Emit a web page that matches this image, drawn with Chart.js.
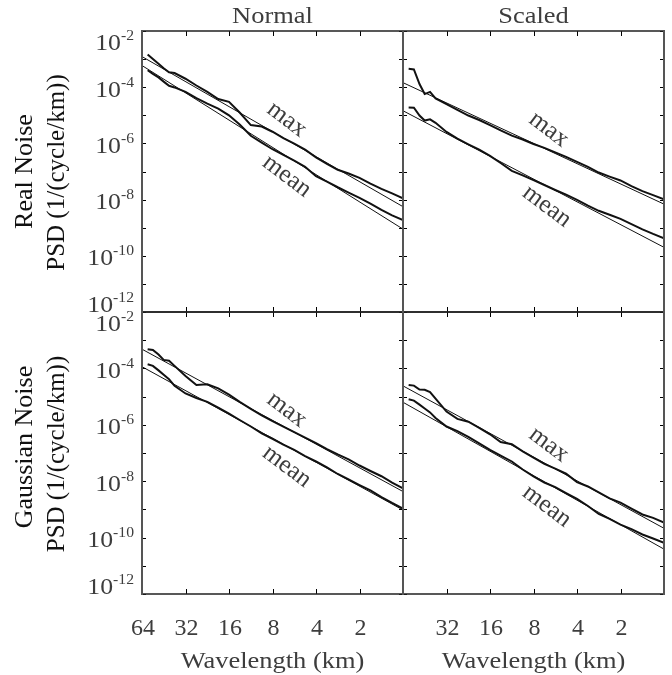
<!DOCTYPE html>
<html>
<head>
<meta charset="utf-8">
<script src="https://cdn.jsdelivr.net/npm/chart.js@4.4.0/dist/chart.umd.min.js"></script>
<style>
  html, body { margin: 0; padding: 0; background: #fff; }
  #wrap { position: relative; width: 672px; height: 675px; }
  #wrap canvas { position: absolute; left: 0; top: 0; }
</style>
</head>
<body>
<div id="wrap">
  <canvas id="tl" width="672" height="675"></canvas>
  <canvas id="tr" width="672" height="675"></canvas>
  <canvas id="bl" width="672" height="675"></canvas>
  <canvas id="br" width="672" height="675"></canvas>
</div>
<script>
// wavelength grid of the measured spectra (km)
const wavelengths = [58.5, 53.8, 49.2, 45.3, 41.6, 38.1, 32, 26.9, 22.6, 19.0, 16, 13.5, 11.3, 9.5, 8, 6.73, 5.66, 4.76, 4, 3.36, 2.83, 2.38, 2, 1.68, 1.41, 1.19, 1.0];
const fitWavelengths = [64, 1];

// Real noise, normal
const realNormalMax = [1.45e-3, 1.0e-3, 6.8e-4, 4.7e-4, 3.4e-4, 3.2e-4, 2.0e-4, 1.15e-4, 6.8e-5, 3.8e-5, 3.0e-5, 1.26e-5, 4.5e-6, 4.0e-6, 2.6e-6, 1.55e-6, 9.8e-7, 6.0e-7, 3.2e-7, 1.86e-7, 1.15e-7, 8.5e-8, 5.9e-8, 3.7e-8, 2.4e-8, 1.66e-8, 1.1e-8];
const realNormalMean = [4.0e-4, 3.0e-4, 2.24e-4, 1.58e-4, 1.12e-4, 9.8e-5, 6.8e-5, 4.1e-5, 2.6e-5, 1.74e-5, 1.0e-5, 4.7e-6, 1.86e-6, 1.07e-6, 6.2e-7, 3.9e-7, 2.45e-7, 1.48e-7, 6.8e-8, 4.4e-8, 2.75e-8, 1.78e-8, 1.15e-8, 7.2e-9, 4.3e-9, 2.75e-9, 1.86e-9];
const realNormalFitMax = [1.23e-3, 5.6e-9];
const realNormalFitMean = [5.9e-4, 8.9e-10];

// Real noise, scaled
const realScaledMax = [4.5e-4, 4.3e-4, 1.3e-4, 5.7e-5, 6.8e-5, 4.0e-5, 2.5e-5, 1.55e-5, 9.8e-6, 6.8e-6, 4.5e-6, 2.9e-6, 1.9e-6, 1.38e-6, 9.5e-7, 6.9e-7, 4.8e-7, 3.3e-7, 2.2e-7, 1.45e-7, 9.2e-8, 6.6e-8, 4.8e-8, 3.0e-8, 2.0e-8, 1.45e-8, 1.02e-8];
const realScaledMean = [1.9e-5, 1.86e-5, 9.8e-6, 6.5e-6, 7.2e-6, 5.4e-6, 2.55e-6, 1.48e-6, 9.3e-7, 6.0e-7, 3.6e-7, 2.0e-7, 1.05e-7, 7.3e-8, 4.9e-8, 3.3e-8, 2.2e-8, 1.5e-8, 9.7e-9, 6.1e-9, 4.0e-9, 2.9e-9, 2.05e-9, 1.35e-9, 8.7e-10, 6.0e-10, 4.2e-10];
const realScaledFitMax = [1.45e-4, 6.9e-9];
const realScaledFitMean = [1.45e-5, 2.0e-10];

// Gaussian noise, normal
const gaussNormalMax = [4.8e-4, 4.5e-4, 3.1e-4, 2.0e-4, 1.86e-4, 1.23e-4, 5.4e-5, 2.6e-5, 2.75e-5, 1.95e-5, 1.18e-5, 6.5e-6, 3.7e-6, 2.14e-6, 1.35e-6, 8.6e-7, 5.5e-7, 3.5e-7, 2.25e-7, 1.38e-7, 8.9e-8, 5.9e-8, 3.6e-8, 2.3e-8, 1.5e-8, 8.9e-9, 5.6e-9];
const gaussNormalMean = [1.4e-4, 1.23e-4, 8.5e-5, 5.9e-5, 4.1e-5, 2.4e-5, 1.29e-5, 8.9e-6, 6.5e-6, 4.1e-6, 2.5e-6, 1.48e-6, 8.7e-7, 5.0e-7, 3.2e-7, 2.0e-7, 1.28e-7, 7.8e-8, 5.0e-8, 3.1e-8, 1.8e-8, 1.15e-8, 7.3e-9, 4.7e-9, 2.75e-9, 1.7e-9, 1.07e-9];
const gaussNormalFitMax = [4.8e-4, 4.3e-9];
const gaussNormalFitMean = [1.15e-4, 9.5e-10];

// Gaussian noise, scaled
const gaussScaledMax = [2.6e-5, 2.45e-5, 1.78e-5, 1.74e-5, 1.45e-5, 8.5e-6, 2.95e-6, 1.62e-6, 1.29e-6, 7.8e-7, 4.6e-7, 2.45e-7, 2.04e-7, 1.15e-7, 6.8e-8, 4.1e-8, 2.8e-8, 1.86e-8, 9.3e-9, 6.5e-9, 4.0e-9, 2.45e-9, 1.74e-9, 1.07e-9, 6.6e-10, 5.0e-10, 3.4e-10];
const gaussScaledMean = [8.1e-6, 7.2e-6, 5.2e-6, 3.8e-6, 2.75e-6, 1.74e-6, 8.7e-7, 6.0e-7, 3.7e-7, 2.2e-7, 1.28e-7, 8.1e-8, 5.0e-8, 2.6e-8, 1.48e-8, 9.0e-9, 6.2e-9, 3.8e-9, 2.35e-9, 1.32e-9, 6.9e-10, 4.6e-10, 2.9e-10, 2.0e-10, 1.29e-10, 9.3e-11, 6.5e-11];
const gaussScaledFitMax = [2.4e-5, 2.14e-10];
const gaussScaledFitMean = [6.3e-6, 3.9e-11];

// axis ticks
const yTickValues = [1e-2, 1e-3, 1e-4, 1e-5, 1e-6, 1e-7, 1e-8, 1e-9, 1e-10, 1e-11, 1e-12];
const yLabelValues = [1e-2, 1e-4, 1e-6, 1e-8, 1e-10, 1e-12];
const yLabelExponents = ['-2', '-4', '-6', '-8', '-10', '-12'];
const xTickValues = [32, 16, 8, 4, 2];
const xLabelValues = [64, 32, 16, 8, 4, 2];

const SERIF = '"Liberation Serif", "Times New Roman", serif';
const GREY_TEXT = '#3d3d3d';

function stretched(ctx, text, x, y, sx, align) {
    ctx.save();
    ctx.translate(x, y);
    ctx.scale(sx, 1);
    ctx.textAlign = align;
    ctx.textBaseline = 'alphabetic';
    ctx.fillText(text, 0, 0);
    ctx.restore();
}

const panelDecor = {
    id: 'panelDecor',
    afterDatasetsDraw(chart, args, opts) {
        const { ctx, chartArea: a } = chart;
        const x = chart.scales.x, y = chart.scales.y;
        ctx.save();

        // inward tick marks
        ctx.strokeStyle = '#000';
        ctx.lineWidth = 1;
        ctx.beginPath();
        yTickValues.forEach(v => {
            const py = Math.round(y.getPixelForValue(v)) + 0.5;
            ctx.moveTo(a.left, py); ctx.lineTo(a.left + 4, py);
            ctx.moveTo(a.right, py); ctx.lineTo(a.right - 4, py);
        });
        xTickValues.forEach(v => {
            const px = Math.round(x.getPixelForValue(v)) + 0.5;
            ctx.moveTo(px, a.top); ctx.lineTo(px, a.top + 5);
            ctx.moveTo(px, a.bottom); ctx.lineTo(px, a.bottom - 5);
        });
        ctx.stroke();

        // frame
        ctx.strokeStyle = '#222';
        ctx.lineWidth = 1.5;
        ctx.beginPath();
        ctx.moveTo(a.left, a.top); ctx.lineTo(a.right, a.top);
        ctx.moveTo(a.left, a.bottom); ctx.lineTo(a.right, a.bottom);
        ctx.stroke();
        ctx.strokeStyle = '#555';
        ctx.lineWidth = 2;
        ctx.beginPath();
        ctx.moveTo(a.left, a.top - 1); ctx.lineTo(a.left, a.bottom + 1);
        ctx.moveTo(a.right, a.top - 1); ctx.lineTo(a.right, a.bottom + 1);
        ctx.stroke();

        ctx.fillStyle = GREY_TEXT;

        // column title
        if (opts.title) {
            ctx.font = '23px ' + SERIF;
            stretched(ctx, opts.title, (a.left + a.right) / 2, a.top - 8, 1.15, 'center');
        }

        // y tick labels 10^n
        if (opts.yLabels) {
            const rightX = a.left - 8;
            yLabelValues.forEach((v, i) => {
                let py = y.getPixelForValue(v);
                if (i === 0) py += 9.5;
                if (i === yLabelValues.length - 1) py -= 9.5;
                ctx.font = '14px ' + SERIF;
                const ew = ctx.measureText(yLabelExponents[i]).width * 1.12;
                stretched(ctx, yLabelExponents[i], rightX, py - 0.5, 1.12, 'right');
                ctx.font = '23px ' + SERIF;
                stretched(ctx, '10', rightX - ew, py + 9.5, 1.12, 'right');
            });
        }

        // row titles
        if (opts.rowTitle) {
            ctx.fillStyle = '#111';
            ctx.textAlign = 'center';
            ctx.textBaseline = 'alphabetic';
            const cy = (a.top + a.bottom) / 2;
            ctx.save();
            ctx.translate(31.5, cy + (opts.rowShift || 0));
            ctx.rotate(-Math.PI / 2);
            ctx.font = '26px ' + SERIF;
            ctx.fillText(opts.rowTitle, 0, 0);
            ctx.restore();
            ctx.save();
            ctx.translate(63.5, cy + 1);
            ctx.rotate(-Math.PI / 2);
            ctx.font = '25px ' + SERIF;
            ctx.fillText('PSD (1/(cycle/km))', 0, 0);
            ctx.restore();
            ctx.fillStyle = GREY_TEXT;
        }

        // x tick labels and axis title
        if (opts.xLabels) {
            ctx.font = '24px ' + SERIF;
            ctx.textAlign = 'center';
            ctx.textBaseline = 'alphabetic';
            xLabelValues.forEach(v => {
                if (v === 64 && !opts.firstXLabel) return;
                ctx.fillText(String(v), x.getPixelForValue(v) + 1, 635);
            });
            ctx.font = '23px ' + SERIF;
            stretched(ctx, 'Wavelength (km)', (a.left + a.right) / 2, 668, 1.15, 'center');
        }

        // curve names
        ctx.font = '25px ' + SERIF;
        ctx.textAlign = 'center';
        ctx.textBaseline = 'alphabetic';
        (opts.curveLabels || []).forEach(l => {
            ctx.save();
            ctx.translate(x.getPixelForValue(l.at[0]), y.getPixelForValue(l.at[1]));
            ctx.rotate(37 * Math.PI / 180);
            ctx.fillText(l.text, 0, 6);
            ctx.restore();
        });

        ctx.restore();
    }
};

function series(xs, ys, width) {
    return {
        data: xs.map((w, i) => ({ x: w, y: ys[i] })),
        borderColor: '#111',
        borderWidth: width,
        pointRadius: 0,
        fill: false,
        tension: 0
    };
}

function makePanel(id, box, lines, deco) {
    return new Chart(document.getElementById(id), {
        type: 'line',
        data: {
            datasets: [
                series(fitWavelengths, lines.fitMax, 1),
                series(fitWavelengths, lines.fitMean, 1),
                series(wavelengths, lines.max, 2),
                series(wavelengths, lines.mean, 2)
            ]
        },
        options: {
            responsive: false,
            animation: false,
            events: [],
            layout: { padding: { left: box[0], top: box[1], right: 672 - box[2], bottom: 675 - box[3] } },
            plugins: {
                legend: { display: false },
                tooltip: { enabled: false },
                panelDecor: deco
            },
            scales: {
                x: { type: 'logarithmic', reverse: true, min: 1, max: 64, display: false },
                y: { type: 'logarithmic', min: 1e-12, max: 1e-2, display: false }
            }
        },
        plugins: [panelDecor]
    });
}

makePanel('tl', [142, 31, 403, 312],
    { max: realNormalMax, mean: realNormalMean, fitMax: realNormalFitMax, fitMean: realNormalFitMean },
    { title: 'Normal', yLabels: true, rowTitle: 'Real Noise',
      curveLabels: [{ text: 'max', at: [6.4, 6.8e-6] }, { text: 'mean', at: [6.4, 6.6e-8] }] });

makePanel('tr', [403, 31, 664, 312],
    { max: realScaledMax, mean: realScaledMean, fitMax: realScaledFitMax, fitMean: realScaledFitMean },
    { title: 'Scaled',
      curveLabels: [{ text: 'max', at: [6.3, 3.0e-6] }, { text: 'mean', at: [6.5, 5.6e-9] }] });

makePanel('bl', [142, 312, 403, 594],
    { max: gaussNormalMax, mean: gaussNormalMean, fitMax: gaussNormalFitMax, fitMean: gaussNormalFitMean },
    { yLabels: true, rowTitle: 'Gaussian Noise', rowShift: -6, xLabels: true, firstXLabel: true,
      curveLabels: [{ text: 'max', at: [6.4, 3.3e-6] }, { text: 'mean', at: [6.4, 3.2e-8] }] });

makePanel('br', [403, 312, 664, 594],
    { max: gaussScaledMax, mean: gaussScaledMean, fitMax: gaussScaledFitMax, fitMean: gaussScaledFitMean },
    { xLabels: true,
      curveLabels: [{ text: 'max', at: [6.3, 1.9e-7] }, { text: 'mean', at: [6.5, 1.26e-9] }] });
</script>
</body>
</html>
